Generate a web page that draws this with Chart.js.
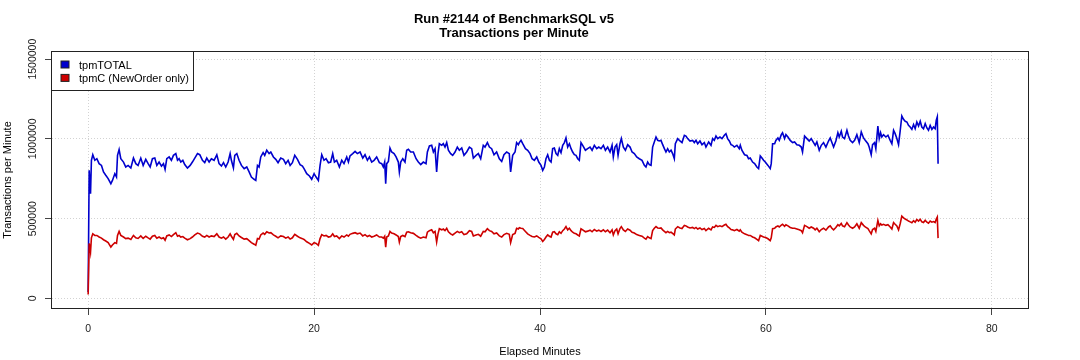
<!DOCTYPE html>
<html><head><meta charset="utf-8">
<script src="https://cdn.jsdelivr.net/npm/chart.js@4.4.1/dist/chart.umd.min.js"></script>
<style>html,body{margin:0;padding:0;background:#fff;}#wrap{width:1080px;height:360px;position:relative;}</style>
</head><body><div id="wrap"><canvas id="c" width="1080" height="360"></canvas></div>
<script>
const titleLines = ['Run #2144 of BenchmarkSQL v5', 'Transactions per Minute'];
const xTitle = 'Elapsed Minutes';
const yTitle = 'Transactions per Minute';
const seriesNames = ['tpmTOTAL', 'tpmC (NewOrder only)'];
const xTicks = [0, 20, 40, 60, 80];
const yTicks = [0, 500000, 1000000, 1500000];

const minutes = [
0.00,0.09,0.21,0.29,0.41,0.59,0.77,0.97,1.18,1.36,
1.56,1.77,2.01,2.15,2.36,2.51,2.60,2.74,2.89,3.13,
3.33,3.54,3.78,4.01,4.22,4.42,4.66,4.87,5.10,5.31,
5.49,5.69,5.90,6.08,6.28,6.49,6.67,6.81,6.96,7.17,
7.37,7.55,7.76,7.91,8.05,8.20,8.38,8.55,8.79,9.03,
9.23,9.44,9.68,9.88,10.12,10.32,10.50,10.71,10.91,11.15,
11.39,11.59,11.80,11.98,12.18,12.39,12.57,12.68,12.86,12.98,
13.16,13.36,13.57,13.81,14.04,14.25,14.45,14.69,14.84,14.99,
15.13,15.28,15.49,15.63,15.81,16.02,16.17,16.40,16.61,16.81,
17.05,17.29,17.49,17.70,17.88,18.08,18.29,18.53,18.76,18.97,
19.11,19.35,19.59,19.79,20.00,20.18,20.38,20.53,20.68,20.88,
21.06,21.27,21.47,21.65,21.80,22.00,22.24,22.45,22.65,22.89,
23.04,23.18,23.42,23.63,23.83,24.07,24.31,24.51,24.72,24.90,
25.10,25.31,25.54,25.78,25.99,26.13,26.25,26.34,26.43,26.58,
26.72,26.87,27.08,27.26,27.46,27.55,27.67,27.85,28.05,28.20,
28.35,28.55,28.79,29.03,29.23,29.44,29.67,29.91,30.03,30.21,
30.41,30.56,30.71,30.85,30.97,31.09,31.30,31.44,31.59,31.74,
31.89,32.09,32.27,32.48,32.68,32.86,33.07,33.27,33.51,33.75,
33.95,34.10,34.34,34.54,34.75,34.98,35.13,35.34,35.52,35.72,
35.93,36.16,36.40,36.61,36.81,37.05,37.28,37.40,37.58,37.79,
37.93,38.08,
38.17,38.32,38.47,38.71,38.91,39.12,39.30,39.50,39.71,39.89,
40.09,40.24,40.39,40.53,40.68,40.83,40.98,41.12,41.27,41.42,
41.57,41.71,41.86,42.01,42.16,42.30,42.45,42.60,42.75,42.89,
43.04,43.19,43.34,43.48,43.63,43.78,44.02,44.22,44.43,44.61,
44.81,45.02,45.20,45.40,45.61,45.79,45.99,46.20,46.38,46.49,
46.64,46.79,46.91,47.08,47.20,47.38,47.56,47.76,47.97,48.15,
48.35,48.56,48.79,49.03,49.24,49.38,49.53,49.68,49.83,49.97,
50.12,50.27,50.42,50.56,50.71,50.86,51.01,51.15,51.30,51.45,
51.60,51.74,51.89,51.98,52.19,52.39,52.57,52.78,52.92,53.07,
53.28,53.51,53.66,53.81,53.96,54.16,54.34,54.55,54.69,54.93,
55.14,55.28,55.43,55.58,55.73,55.93,56.11,56.32,56.46,56.61,
56.76,56.91,57.05,57.20,
57.43,57.64,57.73,57.87,58.11,58.32,58.46,58.61,58.82,
59.00,59.20,59.35,59.50,59.65,59.79,59.94,60.18,60.38,60.47,
60.59,60.77,60.88,61.06,61.18,61.36,61.47,61.65,61.77,61.95,
62.15,62.36,62.54,62.74,62.95,63.13,63.24,63.42,63.63,63.83,
64.01,64.22,64.36,64.51,64.72,64.90,65.10,65.31,65.54,65.69,
65.84,65.99,66.19,66.37,66.49,66.67,66.78,66.96,67.17,67.31,
67.46,67.67,67.85,68.05,68.26,68.44,68.64,68.79,69.03,69.14,
69.32,69.44,69.62,69.73,69.91,70.03,70.15,70.26,70.41,70.62,
70.80,71.00,71.15,71.30,71.44,71.59,71.74,71.89,72.03,72.18,
72.33,72.48,72.62,72.77,72.92,73.07,73.21,73.36,73.51,73.66,
73.80,73.95,74.10,74.25,74.39,74.54,74.69,74.84,74.98,75.08,
75.17,75.24
];

const tpmTotal = [
40000,803000,657000,866000,901000,866000,876000,845000,834000,793000,
772000,751000,719000,740000,782000,761000,897000,933000,876000,855000,
824000,834000,818000,880000,845000,834000,880000,834000,872000,845000,
824000,876000,880000,834000,855000,830000,845000,809000,876000,887000,
866000,897000,908000,866000,876000,855000,866000,839000,818000,834000,
855000,880000,908000,901000,866000,851000,880000,855000,876000,866000,
901000,845000,830000,851000,824000,855000,908000,866000,818000,897000,
908000,866000,834000,814000,824000,793000,761000,747000,740000,834000,
824000,887000,914000,897000,929000,908000,918000,887000,872000,851000,
880000,872000,845000,866000,834000,851000,897000,872000,839000,830000,
814000,782000,768000,747000,782000,761000,740000,834000,901000,866000,
876000,851000,855000,908000,855000,866000,824000,866000,845000,887000,
855000,893000,908000,922000,908000,918000,880000,901000,866000,887000,
855000,866000,887000,851000,845000,824000,855000,719000,845000,859000,
943000,918000,908000,887000,855000,793000,855000,876000,855000,929000,
935000,918000,918000,876000,855000,839000,855000,845000,918000,956000,
960000,918000,939000,793000,908000,970000,960000,970000,949000,977000,
929000,908000,897000,918000,949000,929000,943000,897000,918000,949000,
939000,880000,897000,908000,876000,960000,949000,977000,949000,939000,
901000,918000,876000,859000,901000,918000,908000,793000,897000,918000,
977000,964000,
977000,991000,970000,939000,929000,908000,876000,866000,887000,855000,
834000,803000,824000,876000,901000,866000,855000,939000,943000,908000,
897000,939000,914000,960000,977000,1006000,949000,970000,939000,918000,
901000,897000,876000,866000,977000,960000,929000,939000,949000,929000,
960000,939000,949000,939000,960000,929000,949000,918000,960000,887000,
949000,964000,897000,970000,1002000,949000,929000,964000,949000,918000,
908000,887000,876000,866000,834000,824000,855000,839000,834000,949000,
981000,1012000,991000,987000,991000,964000,939000,918000,939000,918000,
929000,908000,876000,970000,1002000,987000,977000,1023000,1018000,1002000,
987000,991000,977000,991000,970000,987000,964000,977000,949000,981000,
960000,1002000,991000,1018000,1002000,1012000,1002000,1023000,1033000,1002000,
987000,964000,960000,949000,
960000,939000,960000,929000,901000,897000,876000,880000,855000,
845000,824000,814000,893000,880000,866000,855000,834000,814000,845000,
970000,970000,991000,1006000,991000,1027000,1039000,1002000,1027000,1012000,
991000,977000,981000,964000,960000,949000,918000,1018000,1002000,987000,
1002000,977000,960000,981000,929000,960000,977000,949000,987000,1006000,
977000,949000,987000,1039000,1012000,1048000,1012000,1002000,1054000,1018000,
991000,977000,991000,1027000,977000,1044000,1006000,991000,970000,949000,
901000,964000,977000,939000,1081000,1002000,1039000,1012000,1027000,1012000,
1023000,991000,970000,1054000,1033000,1002000,964000,1054000,1144000,1123000,
1111000,1106000,1085000,1075000,1060000,1090000,1064000,1106000,1081000,1111000,
1075000,1064000,1096000,1069000,1054000,1085000,1060000,1075000,1064000,1117000,
1138000,845000
];

const tpmC = [
25000,345000,290000,380000,405000,395000,395000,385000,378000,368000,
360000,350000,322000,335000,350000,345000,395000,420000,395000,385000,
375000,378000,370000,395000,380000,376000,392000,376000,390000,380000,
372000,390000,395000,378000,385000,375000,380000,365000,392000,398000,
388000,400000,412000,390000,395000,385000,388000,378000,368000,375000,
385000,398000,410000,405000,390000,385000,395000,385000,392000,388000,
405000,385000,378000,385000,372000,385000,405000,390000,370000,400000,
408000,392000,382000,372000,375000,362000,350000,340000,333000,375000,
372000,398000,410000,402000,418000,410000,412000,398000,390000,380000,
392000,388000,378000,385000,372000,380000,402000,390000,380000,375000,
370000,355000,345000,335000,350000,345000,333000,375000,400000,392000,
395000,385000,388000,405000,388000,392000,375000,392000,385000,398000,
390000,402000,408000,412000,405000,410000,392000,400000,388000,395000,
385000,390000,398000,385000,385000,378000,390000,322000,385000,392000,
420000,410000,405000,398000,388000,353000,388000,395000,388000,415000,
418000,412000,408000,395000,385000,378000,385000,380000,415000,425000,
430000,412000,420000,353000,405000,437000,430000,435000,425000,440000,
418000,405000,398000,410000,420000,412000,418000,400000,405000,425000,
420000,392000,398000,402000,390000,420000,418000,437000,425000,420000,
405000,410000,392000,385000,400000,408000,402000,350000,400000,408000,
440000,435000,
443000,440000,438000,420000,405000,395000,388000,385000,392000,383000,
374000,358000,370000,385000,398000,390000,385000,415000,418000,405000,
400000,418000,408000,425000,435000,450000,430000,440000,425000,415000,
408000,405000,398000,392000,437000,430000,418000,422000,428000,418000,
432000,422000,428000,420000,430000,418000,428000,412000,430000,398000,
425000,435000,405000,438000,450000,430000,420000,435000,428000,415000,
410000,400000,395000,390000,378000,372000,388000,380000,375000,425000,
440000,450000,442000,440000,442000,430000,420000,412000,420000,412000,
415000,408000,398000,435000,450000,442000,438000,458000,455000,448000,
442000,445000,438000,445000,435000,442000,432000,438000,425000,440000,
430000,448000,445000,458000,450000,455000,450000,460000,465000,450000,
442000,432000,430000,425000,
432000,422000,430000,415000,405000,400000,395000,395000,385000,
380000,370000,362000,395000,390000,385000,383000,374000,362000,380000,
437000,440000,448000,455000,448000,460000,465000,452000,462000,455000,
445000,440000,440000,435000,430000,425000,412000,458000,450000,440000,
448000,440000,430000,440000,418000,432000,440000,428000,448000,455000,
440000,430000,445000,462000,455000,470000,455000,450000,475000,460000,
448000,440000,448000,468000,440000,475000,458000,448000,438000,425000,
405000,432000,440000,420000,489000,455000,468000,460000,465000,458000,
462000,448000,435000,475000,465000,455000,430000,470000,516000,505000,
498000,492000,485000,480000,475000,488000,478000,495000,485000,496000,
480000,476000,490000,478000,472000,485000,478000,482000,476000,498000,
510000,378000
];

const seriesColors = ['#0000CD', '#CD0000'];
const FONT = '"Liberation Sans", Arial, Helvetica, sans-serif';

const framePlugin = {
  id: 'frameAndLegend',
  afterDraw(chart) {
    const ctx = chart.ctx, ca = chart.chartArea;
    ctx.save();
    ctx.strokeStyle = '#222';
    ctx.lineWidth = 1;
    ctx.strokeRect(ca.left - 0.5, ca.top - 0.5, ca.right - ca.left + 1, ca.bottom - ca.top + 1);
    // legend box in top-left corner of the plot
    const lx = ca.left - 0.5, ly = ca.top - 0.5, lw = 142, lh = 39;
    ctx.fillStyle = '#fff';
    ctx.fillRect(lx, ly, lw, lh);
    ctx.strokeRect(lx, ly, lw, lh);
    ctx.font = '11px ' + FONT;
    ctx.textBaseline = 'alphabetic';
    ctx.textAlign = 'left';
    chart.data.datasets.forEach((ds, i) => {
      const sy = ca.top + 9 + i * 13.4;
      ctx.fillStyle = ds.borderColor;
      ctx.fillRect(lx + 9.5, sy, 8, 7);
      ctx.strokeStyle = '#222';
      ctx.strokeRect(lx + 9.5, sy, 8, 7);
      ctx.fillStyle = '#000';
      ctx.fillText(ds.label, lx + 27.5, sy + 7.5);
    });
    ctx.restore();
  }
};

const pts = (vals) => minutes.map((m, i) => ({x: m, y: vals[i]}));

new Chart(document.getElementById('c'), {
  type: 'line',
  data: {
    datasets: [
      {label: seriesNames[0], data: pts(tpmTotal), borderColor: seriesColors[0], backgroundColor: seriesColors[0], borderWidth: 1.6, pointRadius: 0, tension: 0, fill: false, order: 1},
      {label: seriesNames[1], data: pts(tpmC), borderColor: seriesColors[1], backgroundColor: seriesColors[1], borderWidth: 1.6, pointRadius: 0, tension: 0, fill: false, order: 0}
    ]
  },
  options: {
    responsive: false,
    animation: false,
    devicePixelRatio: 1,
    layout: {padding: {left: 0, right: 52, top: 0, bottom: 0}},
    plugins: {
      legend: {display: false},
      tooltip: {enabled: false},
      title: {
        display: true, text: titleLines, color: '#000',
        font: {family: FONT, size: 13, weight: 'bold', lineHeight: 1.077},
        padding: {top: 12.8, bottom: 11.2}
      }
    },
    scales: {
      x: {
        type: 'linear', min: -3.2, max: 83.2,
        afterBuildTicks: (a) => { a.ticks = xTicks.map(v => ({value: v})); },
        afterFit: (s) => { s.height = 52; },
        ticks: {callback: (v) => String(v), font: {family: FONT, size: 10.5}, color: '#222', padding: 8, maxRotation: 0, autoSkip: false},
        grid: {color: '#d3d3d3', lineWidth: 1, tickColor: '#444', tickLength: 7, tickWidth: 1},
        border: {display: false, dash: [1, 2]},
        title: {display: true, text: xTitle, color: '#000', font: {family: FONT, size: 11}, padding: {top: 0, bottom: 1.4}}
      },
      y: {
        type: 'linear', min: -60000, max: 1545000,
        afterBuildTicks: (a) => { a.ticks = yTicks.map(v => ({value: v})); },
        afterFit: (s) => { s.width = 52; },
        ticks: {callback: (v) => String(v), font: {family: FONT, size: 10.5}, color: '#222', minRotation: 90, maxRotation: 90, crossAlign: 'center', padding: -8.4, autoSkip: false},
        grid: {color: '#d3d3d3', lineWidth: 1, tickColor: '#444', tickLength: 7, tickWidth: 1},
        border: {display: false, dash: [1, 2]},
        title: {display: true, text: yTitle, color: '#000', font: {family: FONT, size: 11}, padding: {top: 1.4, bottom: 0}}
      }
    }
  },
  plugins: [framePlugin]
});
</script>
</body></html>
